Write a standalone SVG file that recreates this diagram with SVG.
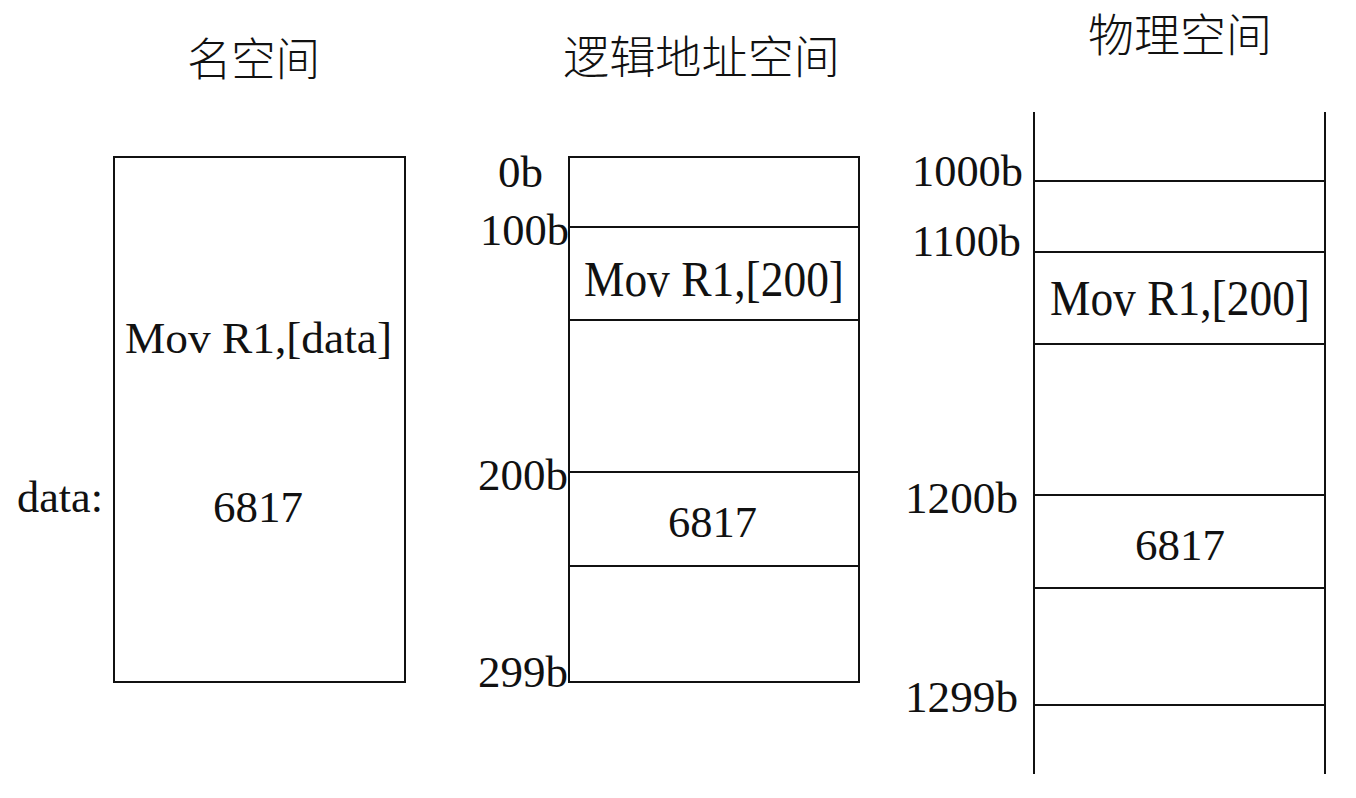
<svg xmlns="http://www.w3.org/2000/svg" width="1356" height="798" viewBox="0 0 1356 798">
<style>
.bg{fill:#fff}
.box{fill:none;stroke:#111;stroke-width:2}
.ln{stroke:#111;stroke-width:2;fill:none}
.t{font-family:"Liberation Serif","Times New Roman",serif;font-size:45px;fill:#111}
.m{font-size:50px}
.c{font-family:"Noto Sans CJK SC","Noto Sans CJK JP",sans-serif;font-size:45px;font-weight:300;fill:#111}
</style>
<rect class="bg" x="0" y="0" width="1356" height="798"/>
<g id="titles">
<text class="c" x="187" y="76" textLength="133" lengthAdjust="spacingAndGlyphs">名空间</text>
<text class="c" x="563" y="74" textLength="277" lengthAdjust="spacingAndGlyphs">逻辑地址空间</text>
<text class="c" x="1088" y="52" textLength="184" lengthAdjust="spacingAndGlyphs">物理空间</text>
</g>
<g id="name-space">
<rect class="box" x="114" y="157" width="291" height="525"/>
<text class="t" x="125" y="353" textLength="267" lengthAdjust="spacingAndGlyphs">Mov R1,[data]</text>
<text class="t" x="17" y="512" textLength="86" lengthAdjust="spacingAndGlyphs">data:</text>
<text class="t" x="213" y="522" textLength="90" lengthAdjust="spacingAndGlyphs">6817</text>
</g>
<g id="logical-space">
<rect class="box" x="569" y="157" width="290" height="525"/>
<line class="ln" x1="569" y1="227" x2="859" y2="227"/>
<line class="ln" x1="569" y1="320" x2="859" y2="320"/>
<line class="ln" x1="569" y1="472" x2="859" y2="472"/>
<line class="ln" x1="569" y1="566" x2="859" y2="566"/>
<text class="t" x="498" y="187">0b</text>
<text class="t" x="480" y="245" textLength="89" lengthAdjust="spacingAndGlyphs">100b</text>
<text class="t m" x="584" y="296" textLength="260" lengthAdjust="spacingAndGlyphs">Mov R1,[200]</text>
<text class="t" x="478" y="490" textLength="90" lengthAdjust="spacingAndGlyphs">200b</text>
<text class="t" x="668" y="537" textLength="89" lengthAdjust="spacingAndGlyphs">6817</text>
<text class="t" x="478" y="687" textLength="90" lengthAdjust="spacingAndGlyphs">299b</text>
</g>
<g id="physical-space">
<line class="ln" x1="1034" y1="112" x2="1034" y2="774"/>
<line class="ln" x1="1325" y1="112" x2="1325" y2="774"/>
<line class="ln" x1="1034" y1="181" x2="1325" y2="181"/>
<line class="ln" x1="1034" y1="252" x2="1325" y2="252"/>
<line class="ln" x1="1034" y1="344" x2="1325" y2="344"/>
<line class="ln" x1="1034" y1="495" x2="1325" y2="495"/>
<line class="ln" x1="1034" y1="588" x2="1325" y2="588"/>
<line class="ln" x1="1034" y1="705" x2="1325" y2="705"/>
<text class="t" x="912" y="186" textLength="111" lengthAdjust="spacingAndGlyphs">1000b</text>
<text class="t" x="912" y="256" textLength="109" lengthAdjust="spacingAndGlyphs">1100b</text>
<text class="t m" x="1050" y="315" textLength="260" lengthAdjust="spacingAndGlyphs">Mov R1,[200]</text>
<text class="t" x="905" y="513" textLength="113" lengthAdjust="spacingAndGlyphs">1200b</text>
<text class="t" x="1135" y="560" textLength="90" lengthAdjust="spacingAndGlyphs">6817</text>
<text class="t" x="905" y="712" textLength="113" lengthAdjust="spacingAndGlyphs">1299b</text>
</g>
<g id="connectors"></g>
</svg>
